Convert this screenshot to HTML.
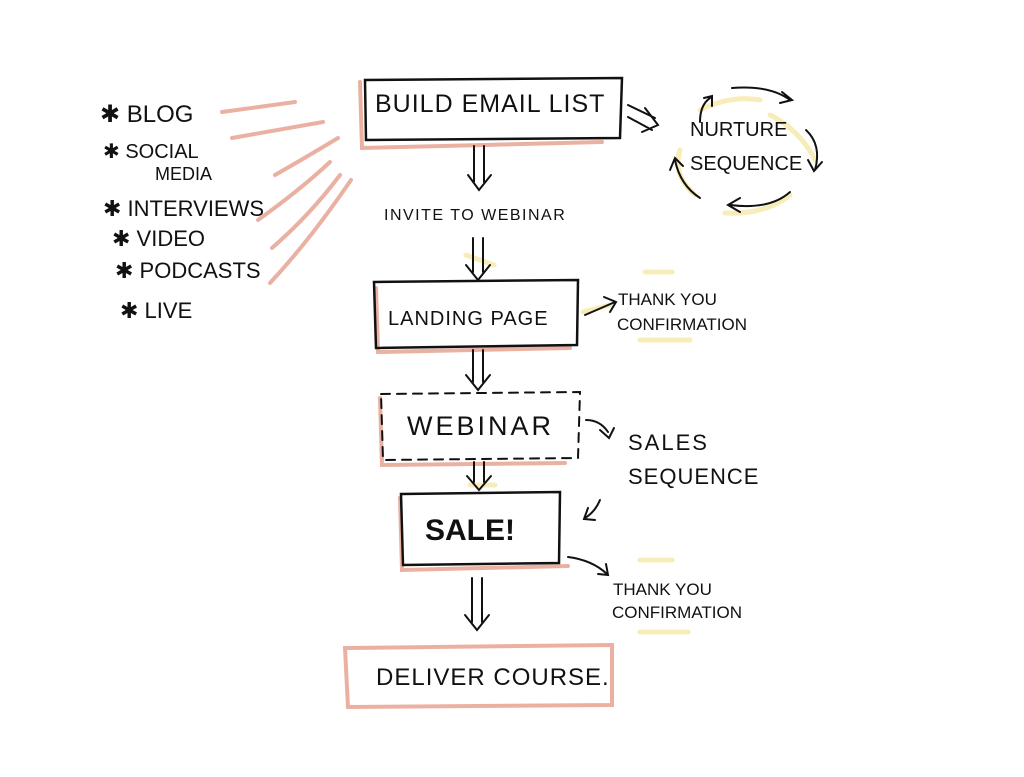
<!DOCTYPE html>
<html><head><meta charset="utf-8"><style>
html,body{margin:0;padding:0;background:#fff;width:1024px;height:777px;overflow:hidden}
svg text{font-family:"Liberation Sans",sans-serif;fill:#111}
</style></head><body>
<svg width="1024" height="777" viewBox="0 0 1024 777" xmlns="http://www.w3.org/2000/svg">
<g fill="none" stroke-linecap="round">
<g stroke="#eab1a3" stroke-width="4">
<path d="M222 112 L295 102"/>
<path d="M232 138 L323 122"/>
<path d="M275 175 Q310 155 338 138"/>
<path d="M258 220 Q300 190 330 162"/>
<path d="M272 248 Q310 215 340 175"/>
<path d="M270 283 Q310 240 351 180"/>
<path d="M360 82 L362 148 L602 142"/>
<path d="M376 288 L378 352 L570 348"/>
<path d="M380 398 L382 465 L565 463"/>
<path d="M400 498 L402 570 L568 566"/>
<path d="M345 648 L612 645 L612 705 L348 707 Z"/>
</g>
<g stroke="#f4e08a" stroke-width="5" opacity="0.6">
<path d="M466 255 L494 265"/>
<path d="M583 312 L610 305"/>
<path d="M645 272 L672 272"/>
<path d="M640 340 L690 340"/>
<path d="M640 560 L672 560"/>
<path d="M640 632 L688 632"/>
<path d="M470 485 L495 485"/>
<path d="M700 110 Q730 95 760 100"/>
<path d="M770 115 Q800 130 815 160"/>
<path d="M680 150 Q672 175 695 195"/>
<path d="M725 213 Q765 215 790 195"/>
</g>
<g stroke="#111" stroke-width="2.5">
<path d="M365 80 L622 78 L620 138 L366 140 Z"/>
<path d="M374 282 L578 280 L577 345 L376 348 Z"/>
<path d="M381 394 L580 392 L578 458 L383 460 Z" stroke-dasharray="9 7" stroke-width="2"/>
<path d="M401 494 L560 492 L559 563 L403 565 Z"/>
</g>
<g stroke="#111" stroke-width="2">
<path d="M474 146 L474 182 M484 146 L484 182 M468 175 L479 190 L491 175"/>
<path d="M473 238 L473 272 M483 238 L483 272 M466 265 L478 280 L490 265"/>
<path d="M473 350 L473 382 M483 350 L483 382 M466 375 L478 390 L490 375"/>
<path d="M474 462 L474 482 M484 462 L484 482 M467 476 L479 490 L491 476"/>
<path d="M472 578 L472 622 M482 578 L482 622 M465 615 L477 630 L489 615"/>
<path d="M628 105 L655 118 M628 117 L652 130 M645 108 L658 125 L642 132"/>
<path d="M585 315 L615 302 M604 297 L616 302 L610 312"/>
<path d="M586 420 Q600 420 608 432 M600 430 L609 438 L614 428"/>
<path d="M600 500 Q595 512 585 518 M588 508 L584 519 L595 520"/>
<path d="M568 557 Q592 560 607 574 M598 574 L608 575 L606 564"/>
<path d="M700 122 Q700 105 710 98 M704 98 L712 96 L712 106"/>
<path d="M732 88 Q770 85 790 100 M782 92 L792 100 L780 103"/>
<path d="M806 130 Q822 145 815 170 M808 160 L814 171 L822 162"/>
<path d="M790 192 Q770 210 730 205 M740 198 L728 205 L740 212"/>
<path d="M700 198 Q680 185 675 160 M670 170 L675 158 L683 166"/>
</g>
</g>
<text x="375" y="112" font-size="25" letter-spacing="1">BUILD EMAIL LIST</text>
<text x="384" y="220" font-size="16" letter-spacing="1.5">INVITE TO WEBINAR</text>
<text x="388" y="325" font-size="20" letter-spacing="1">LANDING PAGE</text>
<text x="407" y="435" font-size="27" letter-spacing="3">WEBINAR</text>
<text x="425" y="540" font-size="30" font-weight="bold">SALE!</text>
<text x="376" y="685" font-size="24" letter-spacing="1">DELIVER COURSE.</text>
<text x="690" y="136" font-size="20">NURTURE</text>
<text x="690" y="170" font-size="20">SEQUENCE</text>
<text x="618" y="305" font-size="17">THANK YOU</text>
<text x="617" y="330" font-size="17">CONFIRMATION</text>
<text x="628" y="450" font-size="22" letter-spacing="2">SALES</text>
<text x="628" y="484" font-size="22" letter-spacing="1">SEQUENCE</text>
<text x="613" y="595" font-size="17">THANK YOU</text>
<text x="612" y="618" font-size="17">CONFIRMATION</text>
<g font-size="24">
<text x="100" y="122">✱ BLOG</text>
<text x="103" y="158" font-size="20">✱ SOCIAL</text>
<text x="155" y="180" font-size="18">MEDIA</text>
<text x="103" y="216" font-size="22">✱ INTERVIEWS</text>
<text x="112" y="246" font-size="22">✱ VIDEO</text>
<text x="115" y="278" font-size="22">✱ PODCASTS</text>
<text x="120" y="318" font-size="22">✱ LIVE</text>
</g>
</svg>
</body></html>
